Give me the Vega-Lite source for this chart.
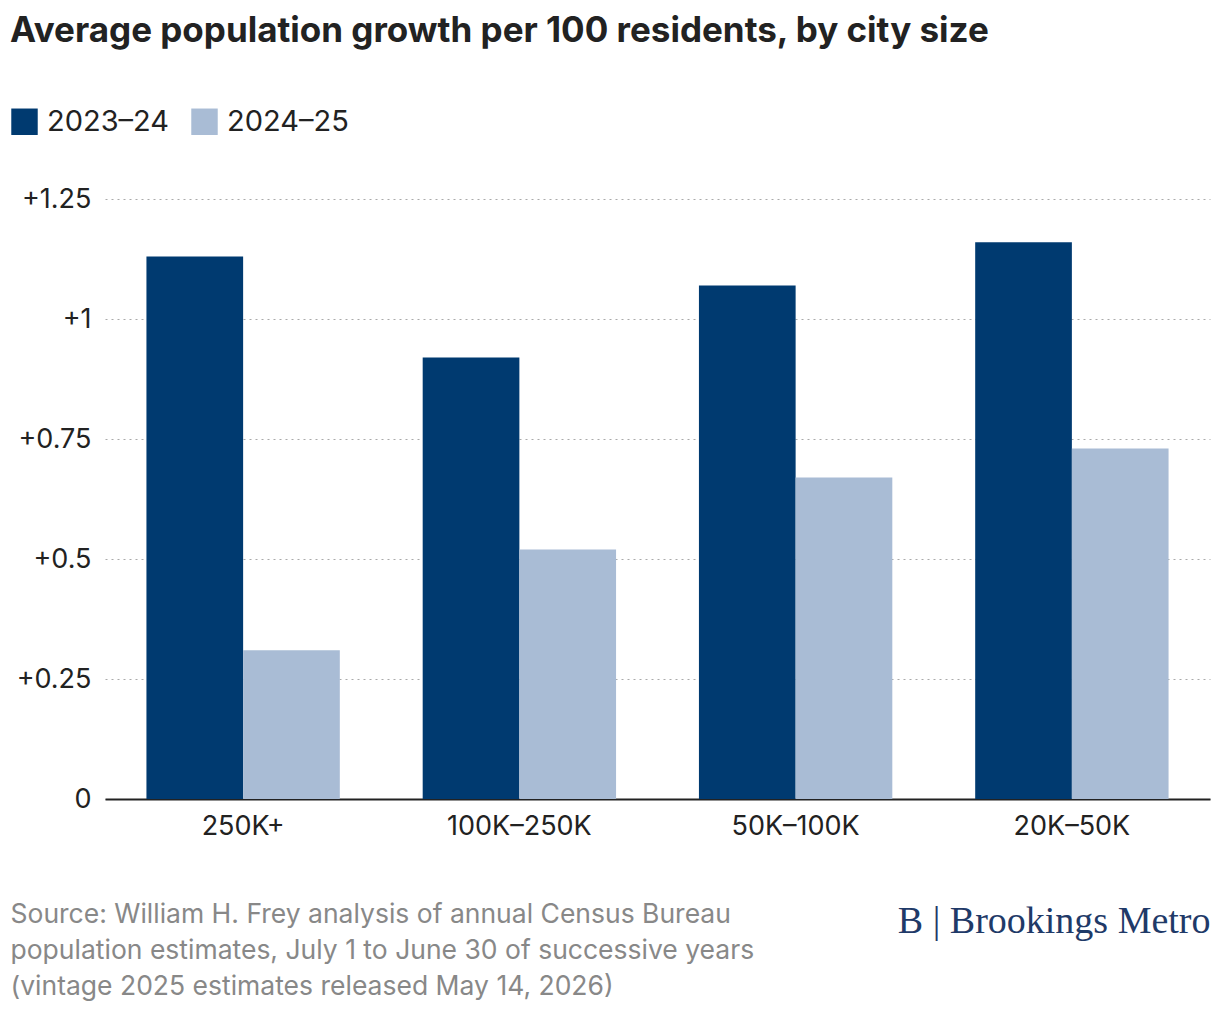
{
  "$schema": "https://vega.github.io/schema/vega-lite/v6.json",
  "width": 1105,
  "height": 600,
  "autosize": "none",
  "padding": {"left": 105, "top": 199, "right": 10, "bottom": 217},
  "background": "white",
  "config": {"font": "Inter", "view": {"stroke": null}},
  "title": {
    "text": "Average population growth per 100 residents, by city size",
    "anchor": "start",
    "frame": "group",
    "dx": -95,
    "offset": 58,
    "fontSize": 35,
    "fontWeight": "bold",
    "color": "#222222"
  },
  "data": {
    "values": [
      {"size": "250K+", "period": "2023–24", "growth": 1.13},
      {"size": "250K+", "period": "2024–25", "growth": 0.31},
      {"size": "100K–250K", "period": "2023–24", "growth": 0.92},
      {"size": "100K–250K", "period": "2024–25", "growth": 0.52},
      {"size": "50K–100K", "period": "2023–24", "growth": 1.07},
      {"size": "50K–100K", "period": "2024–25", "growth": 0.67},
      {"size": "20K–50K", "period": "2023–24", "growth": 1.16},
      {"size": "20K–50K", "period": "2024–25", "growth": 0.73}
    ]
  },
  "mark": "bar",
  "encoding": {
    "x": {
      "field": "size",
      "type": "nominal",
      "sort": null,
      "scale": {"paddingInner": 0.3, "paddingOuter": 0.15},
      "axis": {
        "title": ["Source: William H. Frey analysis of annual Census Bureau", "population estimates, July 1 to June 30 of successive years", "(vintage 2025 estimates released May 14, 2026)"],
        "titleAnchor": "start",
        "titleAlign": "left",
        "titleX": -95,
        "titleY": 102,
        "titleFontSize": 26.5,
        "titleFontWeight": "normal",
        "titleColor": "#888888",
        "titleLineHeight": 36,
        "titleBaseline": "top",
        "labelAngle": 0,
        "labelFontSize": 27,
        "labelColor": "#222222",
        "labelPadding": 14,
        "ticks": false,
        "domainColor": "#222222",
        "domainWidth": 2
      }
    },
    "xOffset": {"field": "period", "type": "nominal"},
    "y": {
      "field": "growth",
      "type": "quantitative",
      "scale": {"domain": [0, 1.25]},
      "axis": {
        "values": [0, 0.25, 0.5, 0.75, 1, 1.25],
        "format": ".2~f",
        "labelExpr": "datum.value == 0 ? '0' : '+' + datum.label",
        "labelFontSize": 27,
        "labelColor": "#222222",
        "labelPadding": 14,
        "ticks": false,
        "domain": false,
        "gridDash": [2, 4],
        "gridColor": "#aaaaaa",
        "title": "B  |  Brookings Metro",
        "titleAngle": 0,
        "titleX": 1105,
        "titleY": 722,
        "titleAlign": "right",
        "titleBaseline": "middle",
        "titleFont": "Liberation Serif",
        "titleFontSize": 38,
        "titleFontWeight": "normal",
        "titleColor": "#1f3a68"
      }
    },
    "color": {
      "field": "period",
      "type": "nominal",
      "scale": {"domain": ["2023–24", "2024–25"], "range": ["#003a70", "#a9bcd5"]},
      "legend": {
        "orient": "none",
        "legendX": -95,
        "legendY": -92,
        "direction": "horizontal",
        "title": null,
        "symbolType": "square",
        "symbolSize": 700,
        "symbolStrokeWidth": 0,
        "symbolOpacity": 1,
        "labelFontSize": 29,
        "labelColor": "#222222",
        "columnPadding": 20,
        "labelOffset": 8
      }
    }
  }
}
